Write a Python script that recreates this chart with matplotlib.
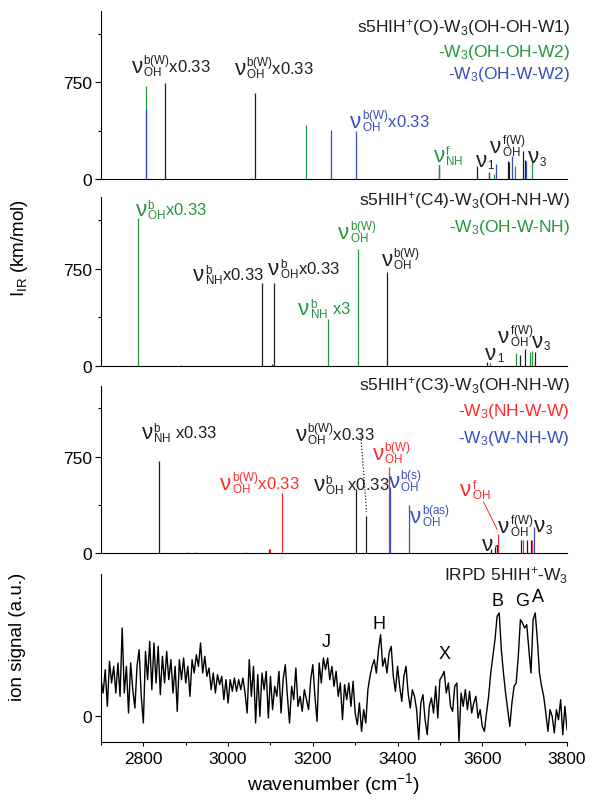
import numpy as np
import matplotlib
matplotlib.use('Agg')
import matplotlib.pyplot as plt
from matplotlib.ticker import MultipleLocator, FixedLocator

plt.rcParams['font.family'] = ['Liberation Sans', 'DejaVu Sans']
plt.rcParams['mathtext.fontset'] = 'custom'
plt.rcParams['mathtext.rm'] = 'Liberation Sans'
plt.rcParams['mathtext.it'] = 'Liberation Sans:italic'
plt.rcParams['mathtext.bf'] = 'Liberation Sans:bold'

BLACK = '#1e1e1e'
GREEN = '#22963f'
BLUE = '#3a4dbd'
RED = '#ff2a2a'

# ---------------- data: panel 1  s5HIH+(O)-W3 ----------------
p1_black_wn = [2851, 3064, 3497, 3587, 3615, 3661, 3664, 3696, 3701]
p1_black_I = [740, 662, 105, 98, 45, 137, 135, 219, 150]
p1_green_wn = [2806, 3185, 3499, 3628, 3678, 3718]
p1_green_I = [721, 420, 111, 38, 103, 129]
p1_blue_wn = [2807, 3055, 3243, 3301, 3617, 3633, 3670, 3704]
p1_blue_I = [541, 5, 379, 371, 52, 116, 180, 140]

# ---------------- data: panel 2  s5HIH+(C4)-W3 ----------------
p2_black_wn = [2890, 3080, 3103, 3109, 3375, 3612, 3690, 3701, 3724]
p2_black_I = [8, 642, 15, 642, 724, 30, 85, 131, 108]
p2_green_wn = [2788, 3235, 3306, 3618, 3679, 3712, 3718]
p2_green_I = [1142, 358, 897, 25, 100, 108, 113]

# ---------------- data: panel 3  s5HIH+(C3)-W3 ----------------
p3_black_wn = [2836, 3097, 3302, 3326, 3621, 3629, 3692, 3706, 3715]
p3_black_I = [719, 30, 502, 286, 30, 47, 98, 105, 105]
p3_red_wn = [2902, 2924, 3043, 3098, 3127, 3379, 3636, 3695, 3718]
p3_red_I = [5, 5, 5, 34, 469, 666, 145, 98, 105]
p3_blue_wn = [3383, 3426, 3723]
p3_blue_I = [515, 377, 203]

# ---------------- data: panel 4  IRPD trace (every 5 cm-1 from 2700) ----------------
irpd_start = 2700
irpd_step = 5
irpd_signal = [
    110, 70, 140, 30, 165, 100, 150, 70, 160, 60,
    265, 70, 150, 10, 160, 80, 25, 150, 200, 60,
    -20, 195, 110, 225, 80, 220, 100, 210, 65, 180,
    100, 195, 110, 170, 70, 150, 15, 170, 110, 175,
    100, 150, 60, 170, 130, 185, 150, 220, 130, 180,
    120, 145, 80, 130, 70, 125, 95, 120, 50, 110,
    40, 110, 75, 115, 75, 110, 80, 115, 70, 10,
    170, 60, 150, -20, 125, 0, 130, 80, 135, -5,
    120, 20, 90, 60, 135, 10, 110, 155, 60, -20,
    90, 50, 145, 30, 60, 15, 80, 50, 20, 110,
    155, 60, -15, 160, 100, 175, 140, 175, 110, 150,
    90, 135, 60, 100, -10, 95, 50, 100, 30, 105,
    10, -25, 40, -45, 20, -20, 80, 120, 150, 170,
    130, 200, 245, 150, 175, 130, 190, 210, 120, 75,
    150, 90, 45, 120, 150, 70, 25, 80, 60, 20,
    -70, 40, 65, -10, -55, 30, 55, 10, 90, -5,
    110, 120, 135, 70, 100, 30, 15, 90, 100, -75,
    70, 30, 80, 20, 75, 10, 40, 60, -5, 20,
    -30, -45, 10, 60, 130, 180, 230, 300, 310, 200,
    130, 70, 20, -30, 40, 90, 100, 180, 290, 280,
    265, 275, 200, 130, 290, 310, 230, 130, 90, 60,
    10, -45, 20, 0, -50, 20, -10, 50, -55, 30,
    -40,
]
irpd_wn = irpd_start + irpd_step * np.arange(len(irpd_signal))

x_ticks = [2800, 3000, 3200, 3400, 3600, 3800]
y_ticks = [0, 750]

# ---------------- figure ----------------
fig = plt.figure(figsize=(5.92, 8.04), dpi=100)
W, H = 592.0, 804.0


def px_axes(top, bottom):
    return fig.add_axes([101 / W, 1 - bottom / H, 466 / W, (bottom - top) / H])


def fy(y):
    return 1 - y / H


def style_stick(ax):
    ax.set_xlim(2700, 3800)
    ax.set_ylim(0, 1300)
    for s in ['top', 'right']:
        ax.spines[s].set_visible(False)
    for s in ['left', 'bottom']:
        ax.spines[s].set_linewidth(0.8)
    ax.set_xticks([])
    ax.yaxis.set_major_locator(FixedLocator(y_ticks))
    ax.yaxis.set_minor_locator(FixedLocator([375, 1125]))
    ax.tick_params(axis='y', which='major', length=4.5, width=0.8,
                   direction='out', labelsize=12.5, pad=2)
    ax.tick_params(axis='y', which='minor', length=2.5, width=0.8,
                   direction='out')


LW = 0.9
NU_FS = 16
NU_W = 0.5 * NU_FS  # advance width of the nu glyph, points
LFS = 12


def lab(ax, x, y, sub, sup=None, tail='', c=BLACK):
    """nu with sub/superscript, then optional tail text."""
    ax.text(x, y, 'ν', color=c, fontsize=NU_FS, ha='left', va='baseline')
    if sup is None:
        s = r'${}_{\mathregular{%s}}$' % sub
    else:
        s = r'${}_{\mathregular{%s}}^{\mathregular{%s}}$' % (sub, sup)
    ax.annotate(s + tail, xy=(x, y), xytext=(NU_W + 0.3, 0),
                textcoords='offset points', color=c, fontsize=LFS,
                ha='left', va='baseline')


# ---- panel 1
ax1 = px_axes(12, 180)
style_stick(ax1)
ax1.vlines(p1_black_wn, 0, p1_black_I, colors=BLACK, lw=LW)
ax1.vlines(p1_green_wn, 0, p1_green_I, colors=GREEN, lw=LW)
ax1.vlines(p1_blue_wn, 0, p1_blue_I, colors=BLUE, lw=LW)
lab(ax1, 2772, 825, 'OH', 'b(W)', 'x0.33')
lab(ax1, 3016, 812, 'OH', 'b(W)', 'x0.33')
lab(ax1, 3288, 400, 'OH', 'b(W)', 'x0.33', BLUE)
lab(ax1, 3485, 141, 'NH', 'f', '', GREEN)
lab(ax1, 3585, 103, '1')
lab(ax1, 3619, 206, 'OH', 'f(W)')
lab(ax1, 3707, 129, '3')

fig.text(570 / W, fy(28), r's5HIH$\mathregular{^{+}}$(O)-W$\mathregular{_{3}}$(OH-OH-W1)',
         ha='right', va='center', fontsize=12.5, color=BLACK)
fig.text(570 / W, fy(52), r'-W$\mathregular{_{3}}$(OH-OH-W2)',
         ha='right', va='center', fontsize=12.5, color=GREEN)
fig.text(570 / W, fy(75), r'-W$\mathregular{_{3}}$(OH-W-W2)',
         ha='right', va='center', fontsize=12.5, color=BLUE)

# ---- panel 2
ax2 = px_axes(198, 367)
style_stick(ax2)
ax2.vlines(p2_black_wn, 0, p2_black_I, colors=BLACK, lw=LW)
ax2.vlines(p2_green_wn, 0, p2_green_I, colors=GREEN, lw=LW)
lab(ax2, 2782, 1162, 'OH', 'b', 'x0.33', GREEN)
lab(ax2, 2918, 660, 'NH', 'b', 'x0.33')
lab(ax2, 3095, 711, 'OH', 'b', 'x0.33')
lab(ax2, 3166, 402, 'NH', 'b', ' x3', GREEN)
lab(ax2, 3260, 982, 'OH', 'b(W)', '', GREEN)
lab(ax2, 3363, 775, 'OH', 'b(W)')
lab(ax2, 3607, 54, '1')
lab(ax2, 3638, 183, 'OH', 'f(W)')
lab(ax2, 3717, 147, '3')

fig.text(570 / W, fy(201), r's5HIH$\mathregular{^{+}}$(C4)-W$\mathregular{_{3}}$(OH-NH-W)',
         ha='right', va='center', fontsize=12.5, color=BLACK)
fig.text(570 / W, fy(228), r'-W$\mathregular{_{3}}$(OH-W-NH)',
         ha='right', va='center', fontsize=12.5, color=GREEN)

# ---- panel 3
ax3 = px_axes(387, 554)
style_stick(ax3)
ax3.vlines(p3_black_wn, 0, p3_black_I, colors=BLACK, lw=LW)
ax3.vlines(p3_red_wn, 0, p3_red_I, colors=RED, lw=LW)
ax3.vlines(p3_blue_wn, 0, p3_blue_I, colors=BLUE, lw=LW)
ax3.plot([3313, 3327], [932, 320], color=BLACK, lw=0.9, ls=(0, (1, 1.5)))
ax3.plot([3603, 3635], [398, 184], color=RED, lw=0.7)
lab(ax3, 2796, 893, 'NH', 'b', ' x0.33')
lab(ax3, 3160, 880, 'OH', 'b(W)', 'x0.33')
lab(ax3, 2981, 502, 'OH', 'b(W)', 'x0.33', RED)
lab(ax3, 3202, 489, 'OH', 'b', ' x0.33')
lab(ax3, 3341, 730, 'OH', 'b(W)', '', RED)
lab(ax3, 3379, 515, 'OH', 'b(s)', '', BLUE)
lab(ax3, 3430, 242, 'OH', 'b(as)', '', BLUE)
lab(ax3, 3548, 450, 'OH', 'f', '', RED)
lab(ax3, 3599, 20, '1')
lab(ax3, 3638, 164, 'OH', 'f(W)')
lab(ax3, 3721, 174, '3')

fig.text(570 / W, fy(386), r's5HIH$\mathregular{^{+}}$(C3)-W$\mathregular{_{3}}$(OH-NH-W)',
         ha='right', va='center', fontsize=12.5, color=BLACK)
fig.text(570 / W, fy(412), r'-W$\mathregular{_{3}}$(NH-W-W)',
         ha='right', va='center', fontsize=12.5, color=RED)
fig.text(570 / W, fy(439), r'-W$\mathregular{_{3}}$(W-NH-W)',
         ha='right', va='center', fontsize=12.5, color=BLUE)

# ---- panel 4
ax4 = px_axes(575, 743)
ax4.plot(irpd_wn, irpd_signal, color='black', lw=1.0)
ax4.set_xlim(2700, 3800)
ax4.set_ylim(-77, 427)
for s in ['top', 'right']:
    ax4.spines[s].set_visible(False)
for s in ['left', 'bottom']:
    ax4.spines[s].set_linewidth(0.8)
ax4.set_yticks([0])
ax4.xaxis.set_major_locator(FixedLocator(x_ticks))
ax4.xaxis.set_minor_locator(MultipleLocator(100))
ax4.tick_params(axis='y', which='major', length=4.5, width=0.8, labelsize=12.5, pad=2)
ax4.tick_params(axis='x', which='major', length=3, width=0.8, labelsize=12.5, pad=3.5)
ax4.tick_params(axis='x', which='minor', length=2, width=0.8)
ax4.set_xlabel(r'wavenumber (cm$\mathregular{^{-1}}$)', fontsize=14, labelpad=3)

peak_letters = ['J', 'H', 'X', 'B', 'G', 'A']
peak_wn = [3231, 3357, 3510, 3635, 3694, 3732]
peak_y = [223, 277, 187, 346, 346, 358]
for t, xw, yv in zip(peak_letters, peak_wn, peak_y):
    ax4.text(xw, yv, t, fontsize=13, ha='center', va='center', color='black')

fig.text(568 / W, fy(576), r'IRPD 5HIH$\mathregular{^{+}}$-W$\mathregular{_{3}}$',
         ha='right', va='center', fontsize=12.5, color=BLACK)

# y labels
fig.text(20 / W, fy(248), r'I$\mathregular{_{IR}}$ (km/mol)', rotation=90,
         ha='center', va='center', fontsize=13.5)
fig.text(18 / W, fy(637), 'ion signal (a.u.)', rotation=90,
         ha='center', va='center', fontsize=13.5)

fig.savefig('out.png', dpi=100)
